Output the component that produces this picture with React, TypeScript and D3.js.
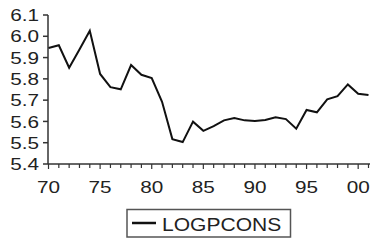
import React from "react";
import * as d3 from "d3";

const years = d3.range(1970, 2002);
const logpcons = [
  5.945, 5.958, 5.852, 5.938, 6.026, 5.823, 5.761, 5.751, 5.865, 5.819,
  5.804, 5.692, 5.517, 5.503, 5.599, 5.556, 5.578, 5.605, 5.616, 5.605,
  5.602, 5.607, 5.619, 5.611, 5.566, 5.654, 5.643, 5.704, 5.719, 5.774,
  5.730, 5.724,
];
const yTicks = [5.4, 5.5, 5.6, 5.7, 5.8, 5.9, 6.0, 6.1];
const xLabelYears = [1970, 1975, 1980, 1985, 1990, 1995, 2000];
const seriesName = "LOGPCONS";

const W = 370;
const H = 240;
const font = "'Liberation Sans', Arial, Helvetica, sans-serif";
const axisColor = "#333";

export default function App() {
  const x = d3.scaleLinear().domain([1970, 2001]).range([48.5, 368.5]);
  const y = d3.scaleLinear().domain([5.4, 6.1]).range([164, 15]);
  const line = d3
    .line<number>()
    .x((_, i) => x(years[i]))
    .y((d) => y(d));

  const x0 = x(1970) - 0.5;
  const y0 = y(5.4);

  return (
    <div style={{ position: "fixed", left: 0, top: 0 }}>
      <svg width={W} height={H} style={{ display: "block", background: "#fff" }}>
        {/* y axis */}
        <line x1={x0} x2={x0} y1={y(6.1)} y2={y0} stroke={axisColor} strokeWidth={1.5} />
        {yTicks.map((t) => (
          <g key={t}>
            <line x1={x0 - 5} x2={x0} y1={y(t)} y2={y(t)} stroke={axisColor} strokeWidth={1.5} />
            <text
              transform={`translate(${x0 - 9},${y(t)}) scale(1.22,1)`}
              textAnchor="end"
              dy="0.36em"
              fontFamily={font}
              fontSize={17}
              fill="#222"
            >
              {t.toFixed(1)}
            </text>
          </g>
        ))}
        {/* x axis */}
        <line x1={x0} x2={W} y1={y0} y2={y0} stroke={axisColor} strokeWidth={1.5} />
        {years.map((yr) => (
          <line
            key={yr}
            x1={x(yr)}
            x2={x(yr)}
            y1={y0}
            y2={y0 + (yr % 5 === 0 ? 5 : 4)}
            stroke={axisColor}
            strokeWidth={1.2}
          />
        ))}
        {xLabelYears.map((yr) => (
          <text
            key={yr}
            transform={`translate(${x(yr)},${193}) scale(1.22,1)`}
            textAnchor="middle"
            fontFamily={font}
            fontSize={17}
            fill="#222"
          >
            {String(yr % 100).padStart(2, "0")}
          </text>
        ))}
        {/* series */}
        <path d={line(logpcons) ?? ""} fill="none" stroke="#111" strokeWidth={2} strokeLinejoin="miter" />
        {/* legend */}
        <rect x={127} y={209.5} width={163.5} height={27.5} fill="#fff" stroke="#555" strokeWidth={1.5} />
        <line x1={132} x2={156} y1={223} y2={223} stroke="#111" strokeWidth={2.5} />
        <text
          transform={`translate(162,230.5) scale(1.17,1)`}
          fontFamily={font}
          fontSize={18}
          fill="#222"
        >
          {seriesName}
        </text>
      </svg>
    </div>
  );
}
